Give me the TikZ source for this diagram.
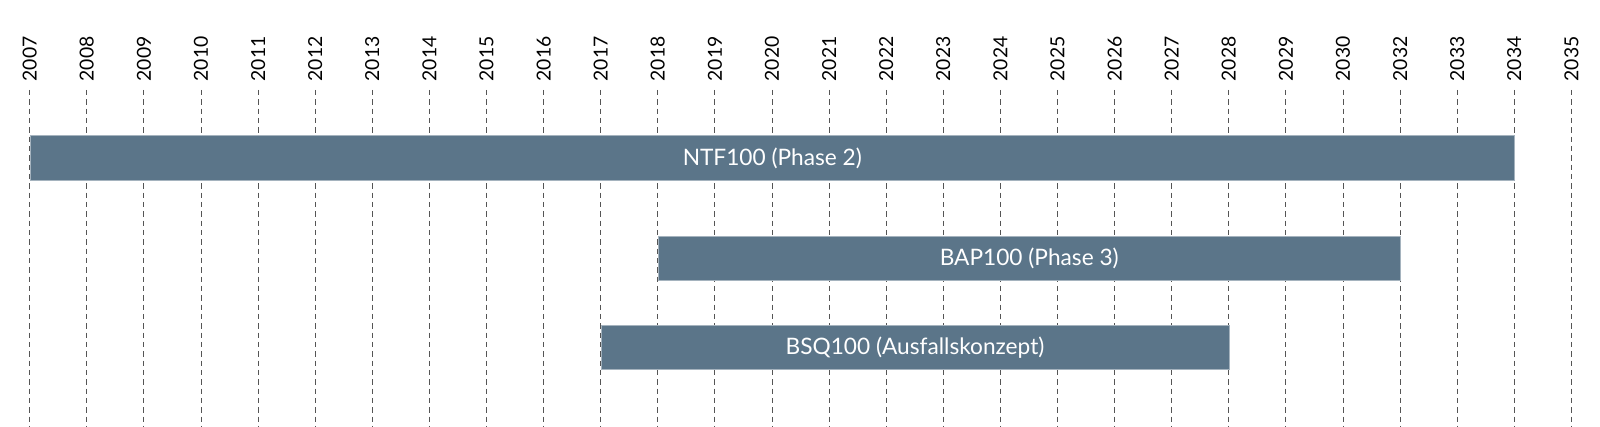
\documentclass[tikz,border=0pt]{standalone}
\usepackage{fontspec}
\setmainfont{Lato}
\usepackage{tikz}
\usetikzlibrary{positioning,calc}
\definecolor{slate}{HTML}{5B7589}
\definecolor{gridgray}{HTML}{555555}
\def\colw{42.825pt}

\begin{document}
\begin{tikzpicture}[x=0.75pt,y=-0.75pt,every node/.style={font=\fontsize{17}{20}\selectfont},yearlbl/.style={rotate=90,anchor=west,inner sep=0pt,font=\fontsize{14.5}{17}\selectfont},gridline/.style={draw=gridgray,line width=0.7pt,dash pattern=on 4pt off 3pt},bar/.style={fill=slate,draw=slate!55!white,line width=0.4pt,text=white,minimum height=33.4pt,inner sep=0pt,anchor=west}]
\useasboundingbox (0,0) rectangle (1600,427);
% years and grid
\foreach \yr [count=\i from 0] in {2007,2008,...,2030,2032,2033,2034,2035}{
  \node[yearlbl] (y\yr) at (29.7+\i*57.1,81.5) {\yr};
  \coordinate (g\yr) at (29.7+\i*57.1,90);
  \coordinate (e\yr) at (29.7+\i*57.1,427);
  \draw[gridline] (g\yr)--(e\yr);
}
% rows
\coordinate (row1) at (0,158);
\coordinate (row2) at (0,258.3);
\coordinate (row3) at (0,347.5);
\node[bar,minimum width=26*\colw] (ntf) at (g2007 |- row1) {NTF100 (Phase 2)};
\node[bar,minimum width=13*\colw] (bap) at (g2018 |- row2) {BAP100 (Phase 3)};
\node[bar,minimum width=11*\colw] (bsq) at (g2017 |- row3) {BSQ100 (Ausfallskonzept)};
\end{tikzpicture}
\end{document}
